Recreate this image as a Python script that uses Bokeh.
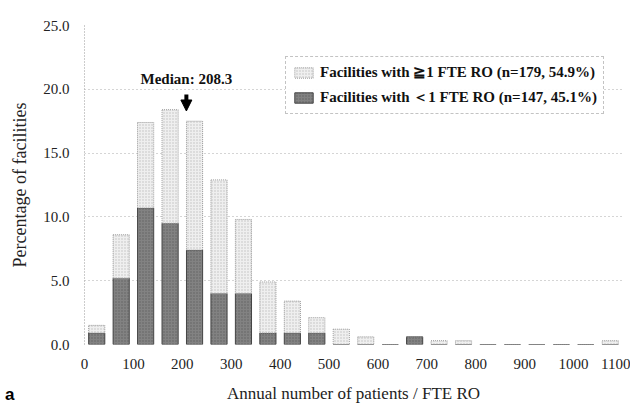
from bokeh.plotting import figure
from bokeh.layouts import column
from bokeh.models import (ColumnDataSource, Range1d, Arrow, NormalHead, Label,
                          Legend, LegendItem, FixedTicker, NumeralTickFormatter, Div)
from bokeh.embed import file_html
from bokeh.resources import INLINE

# Bin centres (annual patients per FTE RO), bins of 50
bin_centers = [25, 75, 125, 175, 225, 275, 325, 375, 425, 475, 525, 575,
               625, 675, 725, 775, 825, 875, 925, 975, 1025, 1075]
# Percentage of facilities (of 326) with <1 FTE RO
lt1_pct = [0.9, 5.2, 10.7, 9.5, 7.4, 4.0, 4.0, 0.9, 0.9, 0.9, 0.0, 0.0,
           0.0, 0.6, 0.0, 0.0, 0.0, 0.0, 0.0, 0.0, 0.0, 0.0]
# Percentage of facilities (of 326) with >=1 FTE RO
ge1_pct = [0.6, 3.4, 6.7, 8.9, 10.1, 8.9, 5.8, 4.0, 2.5, 1.2, 1.2, 0.6,
           0.0, 0.0, 0.3, 0.3, 0.0, 0.0, 0.0, 0.0, 0.0, 0.3]
x_ticks = [0, 100, 200, 300, 400, 500, 600, 700, 800, 900, 1000, 1100]
y_ticks = [0, 5, 10, 15, 20, 25]
median_value = 208.3
label_ge1 = "Facilities with \u22671 FTE RO (n=179, 54.9%)"
label_lt1 = "Facilities with \uff1c1 FTE RO (n=147, 45.1%)"

tops = [a + b for a, b in zip(lt1_pct, ge1_pct)]
src = ColumnDataSource(dict(x=bin_centers, lt1=lt1_pct, top=tops))

SERIF = "Liberation Serif"

p = figure(width=630, height=405, output_backend="svg", toolbar_location=None,
           x_range=Range1d(0, 1100), y_range=Range1d(0, 25),
           min_border_left=84, min_border_right=8, min_border_top=25,
           min_border_bottom=55)
p.outline_line_color = None
p.background_fill_color = "white"

dark = p.vbar(x="x", width=33, bottom=0, top="lt1", source=src,
              fill_color="#828282", line_color="#444444", line_width=1,
              hatch_pattern="dot", hatch_color="#4a4a4a", hatch_scale=3,
              hatch_alpha=0.6)
light = p.vbar(x="x", width=33, bottom="lt1", top="top", source=src,
               fill_color="#efefef", line_color="#9a9a9a", line_width=1,
               line_dash="1 1", hatch_pattern="dot", hatch_color="#b5b5b5",
               hatch_scale=3, hatch_alpha=0.8)

legend = Legend(items=[LegendItem(label=label_ge1, renderers=[light]),
                       LegendItem(label=label_lt1, renderers=[dark])],
                location=(201, 230))
legend.label_text_font = SERIF
legend.label_text_font_style = "bold"
legend.label_text_font_size = "15px"
legend.label_text_color = "#111111"
legend.border_line_color = "#888888"
legend.border_line_dash = "1 2"
legend.glyph_width = 23
legend.glyph_height = 13
legend.label_height = 18
legend.spacing = 7
legend.padding = 6
legend.margin = 0
legend.label_standoff = 5
p.add_layout(legend, "center")

# Median annotation
p.add_layout(Label(x=median_value, y=20.8, text="Median: 208.3",
                   text_font=SERIF, text_font_style="bold",
                   text_font_size="15px", text_align="center",
                   text_baseline="middle", text_color="#111111"))
p.add_layout(Arrow(end=NormalHead(size=11, fill_color="black", line_color="black"),
                   x_start=median_value, y_start=19.6, x_end=median_value, y_end=18.3,
                   line_width=4, line_color="black"))

# Axes
p.xaxis.ticker = FixedTicker(ticks=x_ticks)
p.yaxis.ticker = FixedTicker(ticks=y_ticks)
p.yaxis.formatter = NumeralTickFormatter(format="0.0")
for ax in (p.xaxis[0], p.yaxis[0]):
    ax.major_label_text_font = SERIF
    ax.major_label_text_font_size = "15px"
    ax.major_label_text_color = "#222222"
    ax.axis_label_text_font = SERIF
    ax.axis_label_text_font_style = "normal"
    ax.axis_label_text_color = "#222222"
    ax.axis_line_color = "#999999"
    ax.axis_line_dash = "1 2"
    ax.major_tick_line_color = None
    ax.minor_tick_line_color = None
p.xaxis.axis_line_color = None
p.xaxis.axis_label = "Annual number of patients / FTE RO"
p.xaxis.axis_label_text_font_size = "17px"
p.xaxis.major_label_standoff = 8
p.xaxis.axis_label_standoff = 12
p.yaxis.axis_label = "Percentage of facilities"
p.yaxis.axis_label_text_font_size = "18px"
p.yaxis.major_label_standoff = 9
p.yaxis.axis_label_standoff = 10

p.xgrid.grid_line_color = None
p.ygrid.grid_line_color = "#aaaaaa"
p.ygrid.grid_line_dash = "1 3"

panel_tag = Div(text="a", width=20, height=20, margin=(-20, 0, 0, 5),
                styles={"font-family": "Liberation Sans", "font-weight": "bold",
                        "font-size": "17px", "line-height": "20px", "color": "black"})

layout = column(p, panel_tag, spacing=0)
open("out.html", "w").write(file_html(layout, INLINE))
